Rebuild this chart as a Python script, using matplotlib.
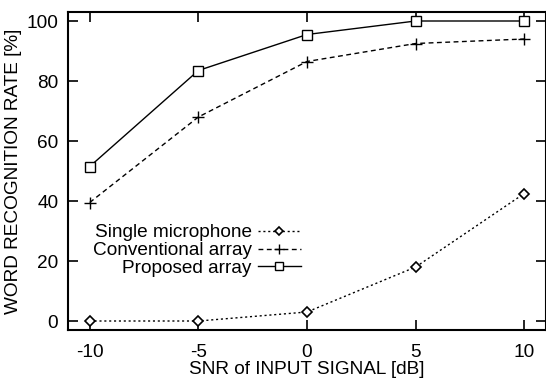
import matplotlib
matplotlib.use('Agg')
import matplotlib.pyplot as plt

plt.rcParams['font.family'] = ['Liberation Sans', 'DejaVu Sans']
plt.rcParams['axes.unicode_minus'] = False

# SNR of input signal [dB]
snr = [-10, -5, 0, 5, 10]
# word recognition rate [%]
single = [0, 0, 3, 18, 42.5]
conventional = [39.5, 68, 86.5, 92.5, 94]
proposed = [51.5, 83.5, 95.5, 100, 100]

fs = 13.7

fig = plt.figure(figsize=(5.46, 3.78), dpi=100)
ax = fig.add_axes([68/546, 48/378, 1 - 68/546, 318/378])

ax.plot(snr, single, color='black', lw=1, dashes=(1.5, 2),
        marker='D', ms=5, mfc='white', mew=1.2, label='Single microphone')
ax.plot(snr, conventional, color='black', lw=1, dashes=(3.5, 2.5),
        marker='+', ms=9, mew=1, label='Conventional array')
ax.plot(snr, proposed, color='black', lw=1, ls='-',
        marker='s', ms=7.5, mfc='white', mew=1, label='Proposed array')

ax.set_xlim(-11, 11)
ax.set_ylim(-3, 103)
ax.set_xticks(snr)
ax.set_yticks([0, 20, 40, 60, 80, 100])
ax.tick_params(direction='in', length=7, width=1.2, top=True, right=True,
               labelsize=fs)
ax.tick_params(axis='y', pad=7)
ax.tick_params(axis='x', pad=10)
for s in ax.spines.values():
    s.set_linewidth(1.5)

ax.set_xlabel('SNR of INPUT SIGNAL [dB]', fontsize=fs, labelpad=0)
ax.set_ylabel('WORD RECOGNITION RATE [%]', fontsize=fs, labelpad=3)

ax.legend(loc='center', bbox_to_anchor=(0.27, 0.25), frameon=False,
          markerfirst=False, fontsize=fs, handlelength=2.3, markerscale=0.8,
          handletextpad=0.3, labelspacing=0.03, borderpad=0)

fig.savefig('out.png', dpi=100)
